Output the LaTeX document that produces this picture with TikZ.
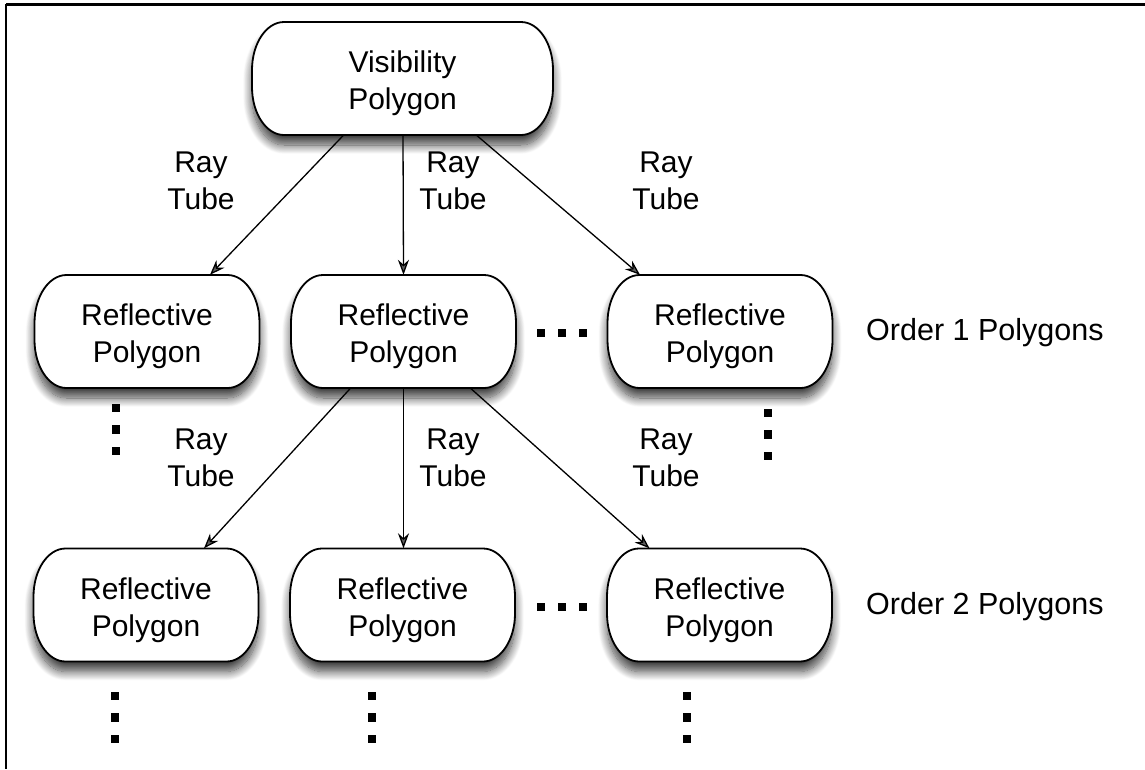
\documentclass[tikz,border=0pt]{standalone}
\usepackage{fontspec}
\setmainfont{Liberation Sans}
\usetikzlibrary{arrows.meta,shadows.blur}

% Rounded box with elliptical corners: name, x, y, width, text.
% The named node carries the anchors, the text sits slightly low in the box.
\newcommand\polybox[5]{%
  \path[polyline]
    ({#2-#4/2+32},{#3-56.5}) -- ({#2+#4/2-32},{#3-56.5})
    arc[start angle=90,end angle=0,x radius=32pt,y radius=48pt]
    -- ({#2+#4/2},{#3+56.5-48})
    arc[start angle=0,end angle=-90,x radius=32pt,y radius=48pt]
    -- ({#2-#4/2+32},{#3+56.5})
    arc[start angle=-90,end angle=-180,x radius=32pt,y radius=48pt]
    -- ({#2-#4/2},{#3-56.5+48})
    arc[start angle=180,end angle=90,x radius=32pt,y radius=48pt]
    -- cycle;
  \node[polyanchor, minimum width=#4] (#1) at (#2,#3) {};
  \node[lbl] (#1-text) at ([yshift=-5pt]#1.center) {#5};
}

\begin{document}
\begin{tikzpicture}[x=1pt,y=-1pt,
  polyline/.style={draw, line width=1.8pt, fill=white,
    blur shadow={shadow xshift=0pt, shadow yshift=-10pt, shadow blur steps=14,
      shadow opacity=75, shadow blur radius=9pt}},
  polyanchor/.style={rectangle, minimum height=113pt, inner sep=0pt, draw=none},
  lbl/.style={align=center, font=\fontsize{30}{37}\selectfont, inner sep=0pt},
  tube/.style={line width=1.3pt, -{Stealth[length=15pt,width=11pt]}},
  dot/.style={fill=black, minimum size=8.5pt, inner sep=0pt, rectangle}]
  \useasboundingbox (0,0) rectangle (1145,769);
  % frame
  \draw[line width=3pt] (6,4) -- (1145,4);
  \draw[line width=2.5pt] (6,4) -- (6,769);

  % polygons
  \polybox{vis}{402.5}{78.5}{301}{Visibility\\Polygon}
  \polybox{a}{147}{331.5}{225}{Reflective\\Polygon}
  \polybox{b}{403.5}{331.5}{225}{Reflective\\Polygon}
  \polybox{c}{720}{331.5}{225}{Reflective\\Polygon}
  \polybox{d}{146}{605}{225}{Reflective\\Polygon}
  \polybox{e}{402.5}{605}{225}{Reflective\\Polygon}
  \polybox{f}{719.5}{605}{225}{Reflective\\Polygon}

  % level labels
  \node[lbl, anchor=west, font=\fontsize{30.5}{37}\selectfont] (o1) at (866,333) {Order 1 Polygons};
  \node[lbl, anchor=west, font=\fontsize{30.5}{37}\selectfont] (o2) at (866,607) {Order 2 Polygons};

  % ray tubes, first order
  \draw[tube] ([xshift=-59pt]vis.south) -- ([xshift=63pt]a.north);
  \draw[tube] ([xshift=0.5pt]vis.south) -- ([xshift=0pt]b.north);
  \draw[tube] ([xshift=74pt]vis.south) -- ([xshift=-80pt]c.north);
  \node[lbl] (t1) at (201,181) {Ray\\Tube};
  \node[lbl] (t2) at (453,181) {Ray\\Tube};
  \node[lbl] (t3) at (666,181) {Ray\\Tube};

  % ray tubes, second order
  \draw[tube] ([xshift=-53pt]b.south) -- ([xshift=58pt]d.north);
  \draw[tube] ([xshift=0pt]b.south) -- ([xshift=1pt]e.north);
  \draw[tube] ([xshift=67pt]b.south) -- ([xshift=-70pt]f.north);
  \node[lbl] (t4) at (201,458) {Ray\\Tube};
  \node[lbl] (t5) at (453,458) {Ray\\Tube};
  \node[lbl] (t6) at (666,458) {Ray\\Tube};

  % ellipses
  \foreach \i/\x in {1/541,2/562,3/583} {
    \node[dot] (h1\i) at (\x,333) {};
    \node[dot] (h2\i) at (\x,607) {};
  }
  \foreach \i/\y in {1/0,2/21.5,3/43} {
    \node[dot] (va\i) at (116,408+\y) {};
    \node[dot] (vc\i) at (768,413+\y) {};
    \node[dot] (vd\i) at (115,696+\y) {};
    \node[dot] (ve\i) at (372,696+\y) {};
    \node[dot] (vf\i) at (687,696+\y) {};
  }
\end{tikzpicture}
\end{document}
